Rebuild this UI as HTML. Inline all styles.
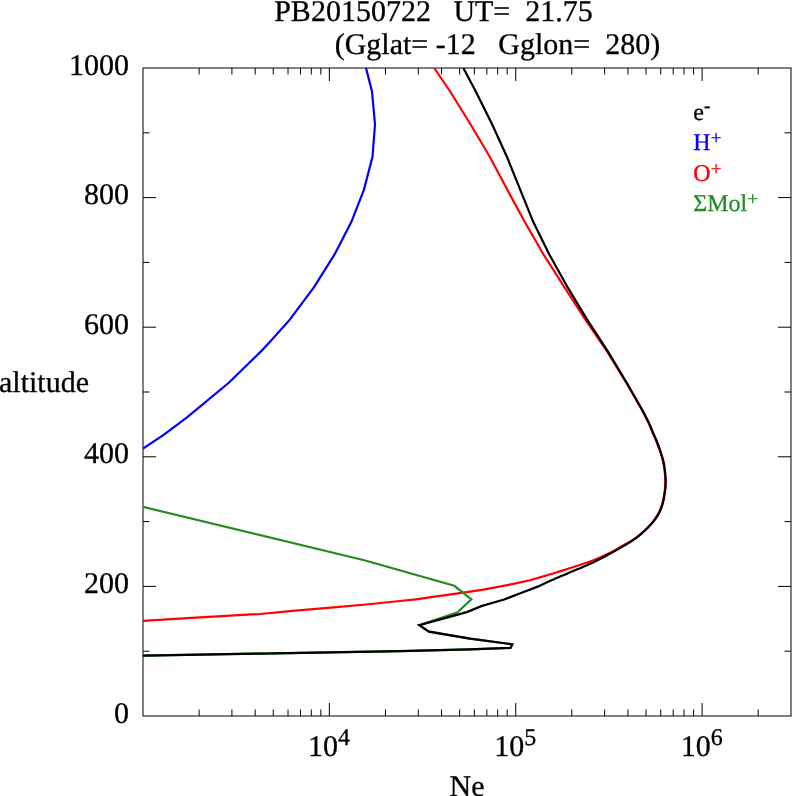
<!DOCTYPE html>
<html lang="en"><head><meta charset="utf-8"><title>PB20150722 UT= 21.75</title>
<style>html,body{margin:0;padding:0;background:#fff}body{width:792px;height:796px;overflow:hidden}svg{display:block}text{font-family:"Liberation Serif","DejaVu Serif",serif;white-space:pre;stroke-linejoin:round;text-rendering:geometricPrecision}</style></head><body>
<svg width="792" height="796" viewBox="0 0 792 796">
<rect width="792" height="796" fill="#fff"/>
<defs><clipPath id="c"><rect x="143" y="68" width="648" height="648"/></clipPath></defs>
<rect x="143" y="68" width="648" height="648" fill="none" stroke="#000" stroke-width="1"/>
<g clip-path="url(#c)" shape-rendering="auto">
<path d="M366,67.9L372,91.5L375,124.5L372.5,156.8L363.9,189.8L351.4,221.8L334.7,254.2L314.2,286.8L290,319.4L271.8,339.7L261,351.4L228.5,383L187.3,417.1L164,434.6L143,448.5" fill="none" stroke="#0000ff" stroke-width="2.2" stroke-linejoin="miter" stroke-miterlimit="10"/>
<path d="M434.2,68L450.2,91.5L470.6,124.5L489.9,157L507.2,189.6L524.7,221.8L543.4,254.3L564.2,286.8L585.2,319.4L607.2,351.6L627.2,384.2C628.7,386.8 633.6,395.4 636.2,400C638.8,404.6 641,408.3 642.8,411.6C644.6,414.9 646,417.8 647.1,420C648.2,422.2 648.3,422.4 649.3,424.6C650.3,426.8 651.8,430.7 652.9,433.3C654,435.9 654.8,437.2 655.9,440C657,442.8 658.4,446.5 659.6,450C660.8,453.5 662.1,457.3 662.9,460.8C663.7,464.3 664.2,467.6 664.6,470.8C665,474 665.2,477.1 665.3,480C665.4,482.9 665.2,485.5 665,488.3C664.8,491.1 664.1,494.8 663.8,496.7C663.5,498.6 663.7,498.2 663.2,500C662.8,501.8 662,505.1 661.1,507.5C660.2,509.9 659.2,512.2 657.8,514.6C656.4,517 654.6,519.6 652.8,521.9C651,524.2 649,526.2 646.9,528.3C644.8,530.4 642.8,532.3 640.3,534.3C637.8,536.3 635.4,538.3 632,540.5C628.6,542.7 624,545.1 620,547.3C616,549.5 612.3,551.7 608,553.8C603.7,555.9 599.1,558 594,560C588.9,562 582.8,563.9 577.3,565.8C571.8,567.6 565.9,569.5 560.7,571.1C555.5,572.7 548.5,574.9 546,575.6L530,580.2L513.3,583.9L496.7,587.2L482,589.9L449.3,594.6L432.8,596.9L416,599.3L400,601L366.1,604.5L330.7,607.7L295.4,610.7L260,614L195.7,617.6L143,620.9" fill="none" stroke="#ff0000" stroke-width="2.2" stroke-linejoin="miter" stroke-miterlimit="10"/>
<path d="M143,506.9L364.3,560.2L454.3,585.8L471.4,599.3L457.2,612.5L419.3,625.1L429,631.6L470,638.6L512.3,644.3L510.5,647.9L470,649.4L400,651.2L260,653.6L143,655.7" fill="none" stroke="#228b22" stroke-width="2.2" stroke-linejoin="miter" stroke-miterlimit="10"/>
<path d="M463.3,68L475.8,91.5L492.2,124.5L507,157L520.2,189.6L533.2,221.8L549.2,254.3L567.3,286.8L587,319.4L608,351.6L627.6,384.2C629.1,386.8 634,395.4 636.6,400C639.2,404.6 641.4,408.3 643.2,411.6C645,414.9 646.4,417.8 647.5,420C648.6,422.2 648.7,422.4 649.7,424.6C650.7,426.8 652.2,430.7 653.3,433.3C654.4,435.9 655.2,437.2 656.3,440C657.4,442.8 658.8,446.5 660,450C661.2,453.5 662.5,457.3 663.3,460.8C664.1,464.3 664.6,467.6 665,470.8C665.4,474 665.6,477.1 665.7,480C665.8,482.9 665.6,485.5 665.4,488.3C665.1,491.1 664.5,494.8 664.2,496.7C663.9,498.6 664.1,498.2 663.6,500C663.1,501.8 662.4,505.1 661.5,507.5C660.6,509.9 659.6,512.2 658.2,514.6C656.8,517 655,519.6 653.2,521.9C651.4,524.2 649.4,526.2 647.3,528.3C645.2,530.4 643.2,532.2 640.7,534.3C638.2,536.4 635.5,538.5 632,540.9C628.5,543.2 624,545.8 620,548.1C616,550.4 612.3,552.5 608,554.8C603.7,557.1 599.1,559.6 594,562C588.9,564.4 582.8,566.9 577.3,569.3C571.8,571.7 565.9,574 560.7,576.2C555.5,578.4 548.5,581.6 546,582.7L538.3,586.4L521.7,592.7L504.2,599.5L482,605.9L466.8,612.1L419.3,625.1L429,631.6L470,638.6L512.3,644.3L510.5,647.9L470,649.4L400,651.2L260,653.6L143,655.7" fill="none" stroke="#000000" stroke-width="2.2" stroke-linejoin="miter" stroke-miterlimit="10"/>
</g>
<g stroke="#000" stroke-width="1" fill="none">
<path d="M143,651.2h6.5M791,651.2h-6.5M143,586.4h13M791,586.4h-13M143,521.6h6.5M791,521.6h-6.5M143,456.8h13M791,456.8h-13M143,392h6.5M791,392h-6.5M143,327.2h13M791,327.2h-13M143,262.4h6.5M791,262.4h-6.5M143,197.6h13M791,197.6h-13M143,132.8h6.5M791,132.8h-6.5M199.1,68v6.5M199.1,716v-6.5M231.92,68v6.5M231.92,716v-6.5M255.2,68v6.5M255.2,716v-6.5M273.26,68v6.5M273.26,716v-6.5M288.02,68v6.5M288.02,716v-6.5M300.49,68v6.5M300.49,716v-6.5M311.3,68v6.5M311.3,716v-6.5M320.83,68v6.5M320.83,716v-6.5M329.36,68v13M329.36,716v-13M385.46,68v6.5M385.46,716v-6.5M418.28,68v6.5M418.28,716v-6.5M441.56,68v6.5M441.56,716v-6.5M459.62,68v6.5M459.62,716v-6.5M474.38,68v6.5M474.38,716v-6.5M486.85,68v6.5M486.85,716v-6.5M497.66,68v6.5M497.66,716v-6.5M507.19,68v6.5M507.19,716v-6.5M515.72,68v13M515.72,716v-13M571.82,68v6.5M571.82,716v-6.5M604.64,68v6.5M604.64,716v-6.5M627.92,68v6.5M627.92,716v-6.5M645.98,68v6.5M645.98,716v-6.5M660.74,68v6.5M660.74,716v-6.5M673.22,68v6.5M673.22,716v-6.5M684.02,68v6.5M684.02,716v-6.5M693.56,68v6.5M693.56,716v-6.5M702.08,68v13M702.08,716v-13M758.18,68v6.5M758.18,716v-6.5"/>
</g>
<g transform="scale(1,1)">
<g font-size="30" fill="#000" stroke="#000" stroke-width="0.3">
<text x="274.2" y="20.80">PB20150722   UT=  21.75</text>
<text x="334.7" y="53.80">(Gglat= -12   Gglon=  280)</text>
<text x="129" y="723.00" text-anchor="end">0</text>
<text x="129" y="593.00" text-anchor="end">200</text>
<text x="129" y="463.00" text-anchor="end">400</text>
<text x="129" y="334.00" text-anchor="end">600</text>
<text x="129" y="204.00" text-anchor="end">800</text>
<text x="129" y="75.00" text-anchor="end">1000</text>
<text x="-1" y="392.00">altitude</text>
<text x="308" y="756.00">10<tspan font-size="24" dy="-11.00">4</tspan></text>
<text x="494.3" y="756.00">10<tspan font-size="24" dy="-11.00">5</tspan></text>
<text x="680.7" y="756.00">10<tspan font-size="24" dy="-11.00">6</tspan></text>
<text x="449.5" y="796.00">Ne</text>
</g>
<g font-size="24" stroke-width="0.3">
<text x="693.3" y="120.00" fill="#000000" stroke="#000000">e<tspan font-size="19.2" dy="-8.00">-</tspan></text>
<text x="693.3" y="150.30" fill="#0000ff" stroke="#0000ff">H<tspan font-size="19.2" dy="-6.20">+</tspan></text>
<text x="693.3" y="180.60" fill="#ff0000" stroke="#ff0000">O<tspan font-size="19.2" dy="-5.30">+</tspan></text>
<text x="693.3" y="211.00" fill="#228b22" stroke="#228b22">ΣMol<tspan font-size="19.2" dy="-6.20">+</tspan></text>
</g>
</g>
</svg></body></html>
